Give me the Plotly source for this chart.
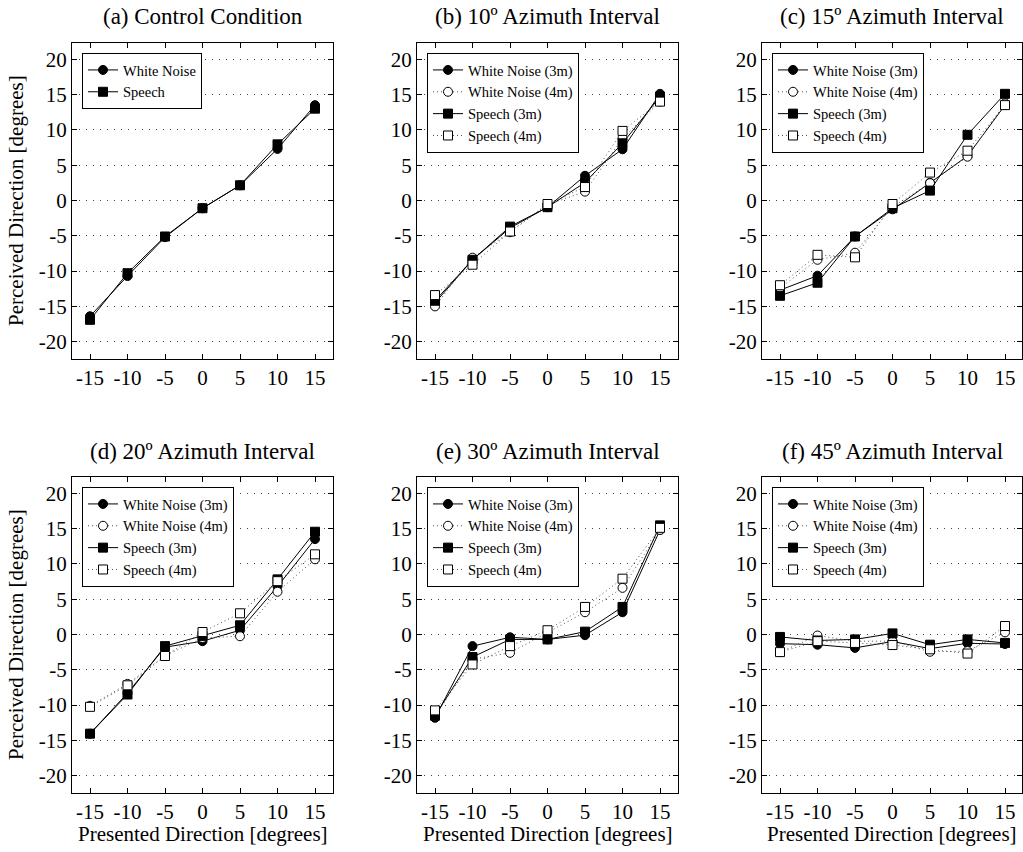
import plotly.graph_objects as go

# ---------------- data ----------------
presented = [-15, -10, -5, 0, 5, 10, 15]
tick_vals = [-15, -10, -5, 0, 5, 10, 15]
ytick_vals = [-20, -15, -10, -5, 0, 5, 10, 15, 20]

panel_titles = ["(a) Control Condition", "(b) 10º Azimuth Interval", "(c) 15º Azimuth Interval",
                "(d) 20º Azimuth Interval", "(e) 30º Azimuth Interval", "(f) 45º Azimuth Interval"]

# (a) control
a_white_noise = [-16.4, -10.7, -5.2, -1.1, 2.15, 7.3, 13.5]
a_speech = [-16.9, -10.3, -5.1, -1.1, 2.15, 7.95, 13.0]

# (b) 10 deg
b_wn3 = [-14.5, -8.4, -3.9, -0.95, 3.5, 7.25, 15.1]
b_wn4 = [-15.0, -8.1, -4.5, -0.6, 1.25, 8.8, 14.0]
b_sp3 = [-14.2, -8.4, -3.7, -0.95, 2.55, 8.1, 14.7]
b_sp4 = [-13.4, -9.1, -4.4, -0.5, 1.9, 9.85, 14.0]

# (c) 15 deg
c_wn3 = [-12.7, -10.65, -5.1, -1.25, 2.5, 6.3, 13.5]
c_wn4 = [-12.4, -8.4, -7.4, -0.9, 2.45, 6.2, 13.75]
c_sp3 = [-13.5, -11.65, -5.1, -1.1, 1.4, 9.3, 15.1]
c_sp4 = [-12.0, -7.7, -8.05, -0.5, 3.95, 7.05, 13.5]

# (d) 20 deg
d_wn3 = [-14.05, -8.3, -1.8, -0.95, 0.6, 6.8, 13.5]
d_wn4 = [-10.1, -7.0, -3.0, -0.5, -0.25, 6.05, 10.65]
d_sp3 = [-14.05, -8.5, -1.65, -0.2, 1.3, 7.8, 14.55]
d_sp4 = [-10.25, -7.2, -3.05, 0.35, 3.0, 7.55, 11.35]

# (e) 30 deg
e_wn3 = [-11.8, -1.65, -0.4, -0.7, -0.1, 3.15, 14.8]
e_wn4 = [-11.6, -3.5, -2.6, 0.3, 3.15, 6.6, 14.8]
e_sp3 = [-11.5, -3.2, -0.7, -0.7, 0.4, 3.9, 15.45]
e_sp4 = [-10.75, -4.25, -1.65, 0.6, 3.9, 7.9, 15.1]

# (f) 45 deg
f_wn3 = [-1.3, -1.45, -1.9, -1.0, -2.0, -1.25, -1.35]
f_wn4 = [-2.5, -0.15, -0.95, -0.95, -2.45, -2.35, 0.3]
f_sp3 = [-0.35, -0.85, -0.7, 0.15, -1.45, -0.7, -1.2]
f_sp4 = [-2.5, -0.95, -1.2, -1.5, -2.1, -2.7, 1.2]

# ---------------- layout geometry (pixels) ----------------
W, H = 1023, 852
col_px = [(72, 333), (417, 678), (762, 1022)]
row_px = [(43, 359), (477, 793)]
FONT = "Liberation Serif"

series_names4 = ["White Noise (3m)", "White Noise (4m)", "Speech (3m)", "Speech (4m)"]
styles = {
    "wn3": dict(symbol="circle", fill="black", dash="solid", lcolor="black"),
    "wn4": dict(symbol="circle", fill="white", dash="1px,3px", lcolor="#555555"),
    "sp3": dict(symbol="square", fill="black", dash="solid", lcolor="black"),
    "sp4": dict(symbol="square", fill="white", dash="1px,3px", lcolor="#555555"),
}

panels = [
    [("White Noise", a_white_noise, "wn3"), ("Speech", a_speech, "sp3")],
    [(series_names4[0], b_wn3, "wn3"), (series_names4[1], b_wn4, "wn4"),
     (series_names4[2], b_sp3, "sp3"), (series_names4[3], b_sp4, "sp4")],
    [(series_names4[0], c_wn3, "wn3"), (series_names4[1], c_wn4, "wn4"),
     (series_names4[2], c_sp3, "sp3"), (series_names4[3], c_sp4, "sp4")],
    [(series_names4[0], d_wn3, "wn3"), (series_names4[1], d_wn4, "wn4"),
     (series_names4[2], d_sp3, "sp3"), (series_names4[3], d_sp4, "sp4")],
    [(series_names4[0], e_wn3, "wn3"), (series_names4[1], e_wn4, "wn4"),
     (series_names4[2], e_sp3, "sp3"), (series_names4[3], e_sp4, "sp4")],
    [(series_names4[0], f_wn3, "wn3"), (series_names4[1], f_wn4, "wn4"),
     (series_names4[2], f_sp3, "sp3"), (series_names4[3], f_sp4, "sp4")],
]

fig = go.Figure()
layout = dict(
    width=W, height=H,
    margin=dict(l=0, r=0, t=0, b=0, autoexpand=False),
    paper_bgcolor="white", plot_bgcolor="white",
    font=dict(family=FONT, color="black", size=21),
    showlegend=True,
    annotations=[],
)

for i, series in enumerate(panels):
    r, c = divmod(i, 3)
    x0, x1 = col_px[c]
    y0, y1 = row_px[r]
    idx = "" if i == 0 else str(i + 1)
    xa, ya = "x" + idx, "y" + idx
    leg = "legend" + idx
    for name, vals, key in series:
        st = styles[key]
        fig.add_trace(go.Scatter(
            x=presented, y=vals, name=name, mode="lines+markers",
            xaxis=xa, yaxis=ya, legend=leg,
            line=dict(color=st["lcolor"], width=1, dash=st["dash"]),
            marker=dict(symbol=st["symbol"], size=9,
                        color=st["fill"], line=dict(color="black", width=1)),
        ))
    axis_common = dict(showline=True, linecolor="black", linewidth=1.3, mirror="ticks",
                       ticks="inside", ticklen=5, tickcolor="black", tickwidth=1,
                       zeroline=False, tickfont=dict(family=FONT, size=21, color="black"))
    xr = [-17.4, 17.4] if c < 2 else [-17.4, 17.4 - 1 / 7.5]
    layout["xaxis" + idx] = dict(
        domain=[x0 / W, x1 / W], anchor=ya, range=xr,
        tickvals=tick_vals, ticktext=[str(v) for v in tick_vals], showgrid=False,
        **axis_common)
    layout["yaxis" + idx] = dict(
        domain=[1 - y1 / H, 1 - y0 / H], anchor=xa, range=[-22.45, 22.3],
        tickvals=ytick_vals, ticktext=[str(v) for v in ytick_vals],
        showgrid=True, gridcolor="#444444", gridwidth=1, griddash="1px,6px",
        **axis_common)
    layout[leg] = dict(
        x=(x0 + 10) / W, y=1 - (y0 + 10) / H, xanchor="left", yanchor="top",
        xref="paper", yref="paper",
        bordercolor="black", borderwidth=1, bgcolor="white",
        font=dict(family=FONT, size=14.5, color="black"),
        itemwidth=30, tracegroupgap=0,
    )
    # panel title
    layout["annotations"].append(dict(
        text=panel_titles[i], x=(x0 + x1) / 2 / W, y=1 - (16 if r == 0 else 451) / H,
        xref="paper", yref="paper", xanchor="center", yanchor="middle",
        showarrow=False, font=dict(family=FONT, size=23, color="black")))
    if c == 0:
        layout["annotations"].append(dict(
            text="Perceived Direction [degrees]", x=16 / W, y=1 - (y0 + y1) / 2 / H,
            xref="paper", yref="paper", xanchor="center", yanchor="middle", textangle=-90,
            showarrow=False, font=dict(family=FONT, size=21, color="black")))
    if r == 1:
        layout["annotations"].append(dict(
            text="Presented Direction [degrees]", x=(x0 + x1) / 2 / W, y=1 - 834 / H,
            xref="paper", yref="paper", xanchor="center", yanchor="middle",
            showarrow=False, font=dict(family=FONT, size=21, color="black")))

fig.update_layout(**layout)
fig.write_html("out.html", config={"displayModeBar": False},
               post_script="document.body.style.margin='0';document.body.style.overflow='hidden';")
